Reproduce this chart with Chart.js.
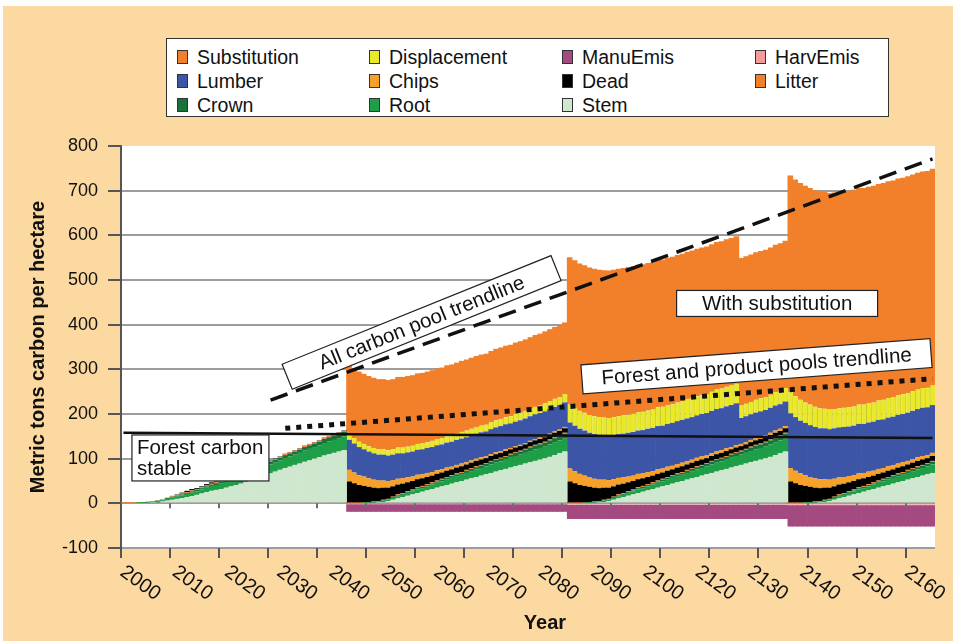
<!DOCTYPE html>
<html>
<head>
<meta charset="utf-8">
<script src="https://cdn.jsdelivr.net/npm/chart.js@4.4.1/dist/chart.umd.min.js"></script>
<style>
  html, body { margin: 0; padding: 0; background: #fff; }
  #wrap { position: relative; width: 953px; height: 641px; overflow: hidden; }
  #panel { position: absolute; left: 3px; top: 6px; right: 0; bottom: 0; background: #fdd9a2; }
  #chart { position: absolute; left: 0; top: 0; }
  #legend {
    position: absolute; left: 166px; top: 38px; width: 723px; height: 79px;
    background: #fff; border: 1px solid #333; box-sizing: border-box;
    font-family: "Liberation Sans", Arial, sans-serif; font-size: 19.5px; color: #111;
  }
  .item { position: absolute; height: 20px; line-height: 20px; white-space: nowrap; }
  .swatch {
    position: absolute; left: 0; top: 3px; width: 9px; height: 12px;
    border: 1px solid #333;
  }
  .item span { position: absolute; left: 20px; top: 0; }
</style>
</head>
<body>
<div id="wrap">
  <div id="panel"></div>
  <canvas id="chart" width="953" height="641"></canvas>
  <div id="legend"></div>
</div>
<script>
const years = Array.from({length: 166}, (_, i) => 2000 + i);

// x axis labels as printed on the original (2110 is missing there)
const xTickLabels = ['2000', '2010', '2020', '2030', '2040', '2050', '2060', '2070',
  '2080', '2090', '2100', '2120', '2130', '2140', '2150', '2160'];

// one value per year, rotations: 2000-2045, 2046-2090, 2091-2135, 2136-2165
const stem = [
  0,0,0,0,0,0,1,2,4,6, 8,10,12,14,16,19,22,25,28,30, 32,35,38,41,44,48,52,56,60,64, 67,71,75,79,82,86,89,93,96,100, 103,107,110,113,116,119,
  0,0,0,0,0,0,1,3,5,8, 11,14,17,20,23,26,29,32,35,38, 41,44,47,50,53,56,59,62,65,68, 71,74,77,80,83,86,89,92,95,98, 101,104,108,112,116,
  0,0,0,0,0,0,1,3,5,8, 11,14,17,20,23,26,29,32,35,38, 41,44,47,50,53,56,59,62,65,68, 71,74,77,80,83,86,89,92,95,98, 101,104,108,112,116,
  0,0,0,0,0,0,1,3,5,8, 11,14,17,20,23,26,29,32,35,38, 41,44,47,50,53,56,59,62,65,68
];
const root = [
  0,0,0,1,1,2,2,3,3,4, 5,5,6,7,8,8,9,10,11,11, 12,13,14,14,15,16,17,17,18,19, 20,20,21,22,23,23,24,25,26,26, 27,28,29,29,30,31,
  0,0,0,1,1,2,2,3,3,4, 5,5,6,7,8,8,9,10,11,11, 12,13,14,14,15,16,17,17,18,19, 20,20,21,22,23,23,24,25,26,26, 27,28,29,29,30,
  0,0,0,1,1,2,2,3,3,4, 5,5,6,7,8,8,9,10,11,11, 12,13,14,14,15,16,17,17,18,19, 20,20,21,22,23,23,24,25,26,26, 27,28,29,29,30,
  0,0,0,1,1,2,2,3,3,4, 5,5,6,7,8,8,9,10,11,11, 12,13,14,14,15,16,17,17,18,19
];
const crown = [
  0,0,0,0,1,1,1,1,1,2, 2,2,2,2,3,3,3,3,3,4, 4,4,4,4,5,5,5,5,5,6, 6,6,6,7,7,7,7,8,8,8, 8,9,9,9,10,10,
  0,0,0,0,1,1,1,1,1,2, 2,2,2,2,3,3,3,3,3,4, 4,4,4,4,5,5,5,5,5,6, 6,6,6,7,7,7,7,8,8,8, 8,9,9,9,10,
  0,0,0,0,1,1,1,1,1,2, 2,2,2,2,3,3,3,3,3,4, 4,4,4,4,5,5,5,5,5,6, 6,6,6,7,7,7,7,8,8,8, 8,9,9,9,10,
  0,0,0,0,1,1,1,1,1,2, 2,2,2,2,3,3,3,3,3,4, 4,4,4,4,5,5,5,5,5,6
];
const litter = [
  1,1,1,1,1,1,1,1,1,1, 2,2,2,2,2,2,2,2,2,2, 2,2,2,2,2,2,2,2,2,2, 2,2,2,2,2,2,2,2,2,2, 2,2,2,2,2,2,
  1,1,1,1,1,1,1,1,1,1, 2,2,2,2,2,2,2,2,2,2, 2,2,2,2,2,2,2,2,2,2, 2,2,2,2,2,2,2,2,2,2, 2,2,2,2,2,
  1,1,1,1,1,1,1,1,1,1, 2,2,2,2,2,2,2,2,2,2, 2,2,2,2,2,2,2,2,2,2, 2,2,2,2,2,2,2,2,2,2, 2,2,2,2,2,
  1,1,1,1,1,1,1,1,1,1, 2,2,2,2,2,2,2,2,2,2, 2,2,2,2,2,2,2,2,2,2
];
const dead = [
  0,0,0,0,0,0,0,0,0,0, 0,1,2,3,3,2,2,3,3,2, 1,1,1,1,1,1,1,1,1,1, 1,1,1,1,1,1,1,1,1,1, 1,1,1,1,1,1,
  48,44,40,37,34,31,29,27,25,23, 22,21,20,19,18,17,16,15,15,14, 14,13,13,13,12,12,12,12,11,11, 11,11,11,10,10,10,10,10,10,10, 10,10,10,10,10,
  48,44,40,37,34,31,29,27,25,23, 22,21,20,19,18,17,16,15,15,14, 14,13,13,13,12,12,12,12,11,11, 11,11,11,10,10,10,10,10,10,10, 10,10,10,10,10,
  48,44,40,37,34,31,29,27,25,23, 22,21,20,19,18,17,16,15,15,14, 14,13,13,13,12,12,12,12,11,11
];
const chips = [
  0,0,0,0,0,0,0,0,0,0, 0,0,0,0,0,0,0,0,0,0, 0,0,0,0,0,0,0,0,0,0, 0,0,0,0,0,0,0,0,0,0, 0,0,0,0,0,0,
  26,24,22,21,19,18,17,16,15,14, 13,12,11,10,10,9,9,8,8,7, 7,6,6,6,5,5,5,5,4,4, 4,4,4,3,3,3,3,3,3,3, 3,3,3,3,3,
  29,27,25,23,21,20,19,18,17,16, 15,14,13,12,12,11,11,10,10,9, 9,8,8,8,7,7,7,7,6,6, 6,6,6,5,5,5,5,5,5,5, 5,5,5,5,5,
  30,28,26,24,22,21,20,19,18,17, 16,15,14,13,13,12,12,11,11,10, 10,9,9,9,8,8,8,8,7,7
];
const lumber = [
  0,0,0,0,0,0,0,0,0,0, 0,0,0,0,0,0,0,0,0,0, 0,0,0,0,0,0,0,0,0,0, 0,0,0,0,0,0,0,0,0,0, 0,0,0,0,0,0,
  67,65,63,61,60,59,58,58,57,57, 57,56,56,56,56,56,56,56,56,56, 56,56,56,56,56,56,56,56,56,56, 56,56,56,55,55,55,55,55,55,55, 55,55,55,55,55,
  103,102,101,101,100,100,100,99,99,99, 98,98,98,98,97,97,97,97,97,96, 96,96,96,96,96,95,95,95,95,95, 95,94,94,94,94,58,58,57,57,57, 56,56,56,55,55,
  122,120,118,117,116,115,114,114,113,113, 112,112,111,111,111,110,110,110,110,109, 109,109,109,108,108,108,108,108,107,107
];
const harvEmis = [
  0,0,0,0,0,0,0,0,0,0, 0,0,0,0,0,0,0,0,0,0, 0,0,0,0,0,0,0,0,0,0, 0,0,0,0,0,0,0,0,0,0, 0,0,0,0,0,0,
  -2,-2,-2,-2,-2,-2,-2,-2,-2,-2, -2,-2,-2,-2,-2,-2,-2,-2,-2,-2, -2,-2,-2,-2,-2,-2,-2,-2,-2,-2, -2,-2,-2,-2,-2,-2,-2,-2,-2,-2, -2,-2,-2,-2,-2,
  -3,-3,-3,-3,-3,-3,-3,-3,-3,-3, -3,-3,-3,-3,-3,-3,-3,-3,-3,-3, -3,-3,-3,-3,-3,-3,-3,-3,-3,-3, -3,-3,-3,-3,-3,-3,-3,-3,-3,-3, -3,-3,-3,-3,-3,
  -4,-4,-4,-4,-4,-4,-4,-4,-4,-4, -4,-4,-4,-4,-4,-4,-4,-4,-4,-4, -4,-4,-4,-4,-4,-4,-4,-4,-4,-4
];
const manuEmis = [
  0,0,0,0,0,0,0,0,0,0, 0,0,0,0,0,0,0,0,0,0, 0,0,0,0,0,0,0,0,0,0, 0,0,0,0,0,0,0,0,0,0, 0,0,0,0,0,0,
  -17,-17,-17,-17,-17,-17,-17,-17,-17,-17, -17,-17,-17,-17,-17,-17,-17,-17,-17,-17, -17,-17,-17,-17,-17,-17,-17,-17,-17,-17, -17,-17,-17,-17,-17,-17,-17,-17,-17,-17, -17,-17,-17,-17,-17,
  -32,-32,-32,-32,-32,-32,-32,-32,-32,-32, -32,-32,-32,-32,-32,-32,-32,-32,-32,-32, -32,-32,-32,-32,-32,-32,-32,-32,-32,-32, -32,-32,-32,-32,-32,-32,-32,-32,-32,-32, -32,-32,-32,-32,-32,
  -48,-48,-48,-48,-48,-48,-48,-48,-48,-48, -48,-48,-48,-48,-48,-48,-48,-48,-48,-48, -48,-48,-48,-48,-48,-48,-48,-48,-48,-48
];
const displacement = [
  0,0,0,0,0,0,0,0,0,0, 0,0,0,0,0,0,0,0,0,0, 0,0,0,0,0,0,0,0,0,0, 0,0,0,0,0,0,0,0,0,0, 0,0,0,0,0,0,
  12,12,12,12,12,12,12,12,12,12, 13,13,13,13,13,13,13,14,14,14, 14,14,14,15,15,15,15,15,15,16, 16,16,16,16,17,17,17,17,17,17, 18,18,18,18,18,
  40,40,40,40,40,40,40,40,40,40, 40,41,41,41,41,41,41,41,42,42, 42,42,42,42,43,43,43,43,43,43, 44,44,44,44,44,28,28,28,29,29, 29,29,30,30,30,
  48,47,47,46,46,45,45,44,44,43, 43,43,43,43,43,43,43,43,43,44, 44,44,44,44,44,44,44,44,44,44
];
const substitution = [
  0,0,0,0,0,0,0,0,0,0, 0,0,0,0,0,0,0,0,0,0, 0,0,0,0,0,0,0,0,0,0, 0,0,0,0,0,0,0,0,0,0, 0,0,0,0,0,0,
  157,157,157,157,157,157,157,157,157,157, 158,158,158,158,158,158,158,158,158,158, 159,159,159,159,159,159,159,159,159,159, 160,160,160,160,160,160,160,160,161,161, 161,161,161,161,161,
  330,330,330,330,330,330,330,330,330,330, 330,330,330,330,330,330,330,330,330,330, 330,330,330,330,330,330,330,330,330,330, 330,330,330,330,330,330,330,330,330,330, 330,330,330,330,330,
  485,485,485,485,485,485,485,485,485,485, 485,485,485,485,485,485,485,485,485,485, 485,485,485,485,485,485,485,485,485,485
];

// trendlines: [year index, value] at both ends
const forestStableTrend = [[0, 158], [165, 146]];
const allPoolTrend = [[30, 231], [165, 771]];
const productPoolTrend = [[33, 168], [165, 279]];

// stacking order, bottom up
const series = [
  {name: 'Stem', data: stem, color: '#cfe7ce'},
  {name: 'Root', data: root, color: '#1f9e48'},
  {name: 'Crown', data: crown, color: '#17733a'},
  {name: 'Litter', data: litter, color: '#f27f2a'},
  {name: 'Dead', data: dead, color: '#000000'},
  {name: 'Chips', data: chips, color: '#f7a12a'},
  {name: 'Lumber', data: lumber, color: '#3c55a6'},
  {name: 'HarvEmis', data: harvEmis, color: '#f39a9b'},
  {name: 'ManuEmis', data: manuEmis, color: '#a54a80'},
  {name: 'Displacement', data: displacement, color: '#eae82a', stripe: '#c3cc30'},
  {name: 'Substitution', data: substitution, color: '#f27f2a'},
];

const legendRows = [
  ['Substitution', 'Displacement', 'ManuEmis', 'HarvEmis'],
  ['Lumber', 'Chips', 'Dead', 'Litter'],
  ['Crown', 'Root', 'Stem'],
];

const FONT = '"Liberation Sans", Arial, sans-serif';

function trendData(ends) {
  const arr = years.map(() => null);
  ends.forEach(([i, v]) => { arr[i] = v; });
  return arr;
}

function buildLegend() {
  const box = document.getElementById('legend');
  const colX = [10, 202, 395, 588];
  const rowY = [8, 32, 56];
  legendRows.forEach((row, r) => {
    row.forEach((name, c) => {
      const s = series.find(d => d.name === name);
      const item = document.createElement('div');
      item.className = 'item';
      item.style.left = colX[c] + 'px';
      item.style.top = rowY[r] + 'px';
      item.innerHTML = `<div class="swatch" style="background:${s.color}"></div><span>${name}</span>`;
      box.appendChild(item);
    });
  });
}

// annotation boxes, centre given in data units (year index, value)
const notes = [
  {lines: ['All carbon pool trendline'], x: 60.8, v: 405, w: 290, h: 27, angle: -22},
  {lines: ['Forest and product pools trendline'], x: 129.1, v: 307, w: 350, h: 29, angle: -4.3},
  {lines: ['With substitution'], x: 133.3, v: 447.5, w: 201, h: 26, angle: 0},
  {lines: ['Forest carbon', 'stable'], x: 15.7, v: 101.6, w: 137, h: 46, angle: 0, left: true},
];

const frame = {
  id: 'frame',
  beforeDraw(chart) {
    const {ctx, chartArea: a} = chart;
    ctx.save();
    ctx.fillStyle = '#fff';
    ctx.fillRect(a.left, a.top, a.right - a.left, a.bottom - a.top);
    ctx.restore();
  },
  afterDatasetsDraw(chart) {
    const {ctx, chartArea: a, scales: {x, y}} = chart;
    const half = (x.getPixelForValue(1) - x.getPixelForValue(0)) / 2;
    const tickX = i => x.getPixelForValue(i) - half;
    const y0 = y.getPixelForValue(0);

    ctx.save();
    ctx.lineWidth = 2;
    for (let i = 0; i <= 160; i += 10) {
      const px = Math.round(tickX(i));
      ctx.strokeStyle = '#555';
      ctx.beginPath();
      ctx.moveTo(px, a.bottom);
      ctx.lineTo(px, a.bottom + 10);
      ctx.stroke();
      if (i > 0) {
        ctx.strokeStyle = '#6e6e6e';
        ctx.beginPath();
        ctx.moveTo(px, y0);
        ctx.lineTo(px, y0 + 5);
        ctx.stroke();
      }
    }

    // x labels, spread evenly like the original
    const start = tickX(0) + 7;
    const step = (tickX(160) - tickX(0)) / (xTickLabels.length - 1);
    ctx.fillStyle = '#111';
    ctx.font = `20px ${FONT}`;
    ctx.textAlign = 'left';
    ctx.textBaseline = 'top';
    xTickLabels.forEach((lab, k) => {
      ctx.save();
      ctx.translate(start + k * step, a.bottom + 14);
      ctx.rotate(36 * Math.PI / 180);
      ctx.fillText(lab, 0, 0);
      ctx.restore();
    });

    ctx.font = `bold 20px ${FONT}`;
    ctx.textAlign = 'center';
    ctx.textBaseline = 'middle';
    ctx.fillText('Year', 545, 623);

    // annotation boxes
    notes.forEach(n => {
      const cx = x.getPixelForValue(n.x);
      const cy = y.getPixelForValue(n.v);
      ctx.save();
      ctx.translate(cx, cy);
      ctx.rotate(n.angle * Math.PI / 180);
      ctx.fillStyle = '#fff';
      ctx.fillRect(-n.w / 2, -n.h / 2, n.w, n.h);
      ctx.strokeStyle = '#222';
      ctx.lineWidth = 1.2;
      ctx.strokeRect(-n.w / 2, -n.h / 2, n.w, n.h);
      ctx.fillStyle = '#111';
      ctx.font = `20.5px ${FONT}`;
      ctx.textBaseline = 'middle';
      if (n.left) {
        ctx.textAlign = 'left';
        ctx.fillText(n.lines[0], -n.w / 2 + 5, -10);
        ctx.fillText(n.lines[1], -n.w / 2 + 5, 11);
      } else {
        ctx.textAlign = 'center';
        ctx.fillText(n.lines[0], 0, 1);
      }
      ctx.restore();
    });
    ctx.restore();
  }
};

buildLegend();

const datasets = series.map(s => ({
  type: 'bar',
  label: s.name,
  data: s.data,
  backgroundColor: s.color,
  borderColor: s.stripe || s.color,
  borderWidth: s.stripe ? {left: 1, right: 0, top: 0, bottom: 0} : 0,
  borderSkipped: false,
  inflateAmount: 0,
  barPercentage: 1.15,
  categoryPercentage: 1,
  stack: 'pools',
}));

datasets.push(
  {type: 'line', label: 'forest', data: trendData(forestStableTrend), stack: 't1', order: -1,
   borderColor: '#111', borderWidth: 2.5, pointRadius: 0, spanGaps: true},
  {type: 'line', label: 'all', data: trendData(allPoolTrend), stack: 't2', order: -1,
   borderColor: '#111', borderWidth: 3.5, borderDash: [18, 9], pointRadius: 0, spanGaps: true},
  {type: 'line', label: 'products', data: trendData(productPoolTrend), stack: 't3', order: -1,
   borderColor: '#111', borderWidth: 5, borderDash: [5, 6], pointRadius: 0, spanGaps: true},
);

const chart = new Chart(document.getElementById('chart').getContext('2d'), {
  type: 'bar',
  data: {labels: years, datasets: datasets},
  options: {
    responsive: false,
    animation: false,
    devicePixelRatio: 1,
    layout: {padding: {top: 146, right: 18, bottom: 93, left: 0}},
    plugins: {legend: {display: false}, tooltip: {enabled: false}},
    scales: {
      x: {display: false, stacked: true},
      y: {
        stacked: true,
        min: -100,
        max: 800,
        afterFit: s => { s.width = 121; },
        ticks: {stepSize: 100, color: '#111', padding: 10, font: {size: 18, family: FONT}},
        grid: {
          color: c => (c.tick && c.tick.value === 800) ? 'rgba(0,0,0,0)' : '#9d9d9d',
          lineWidth: 2,
          tickLength: 13,
          tickColor: '#555',
          tickWidth: 2,
        },
        border: {color: '#555', width: 2},
        title: {
          display: true,
          text: 'Metric tons carbon per hectare',
          color: '#111',
          font: {size: 20, weight: 'bold', family: FONT},
          padding: {top: 26, bottom: 0},
        },
      },
    },
  },
  plugins: [frame],
});
</script>
</body>
</html>
